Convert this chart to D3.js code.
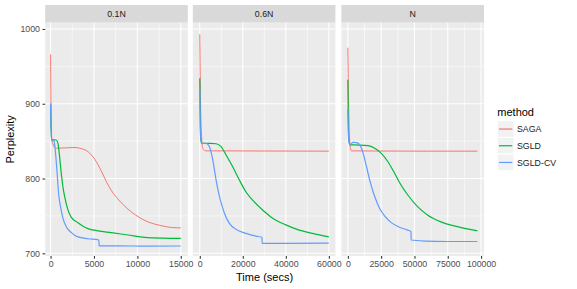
<!DOCTYPE html>
<html>
<head>
<meta charset="utf-8">
<script src="https://cdn.jsdelivr.net/npm/d3@7"></script>
<style>
  body { margin: 0; background: #fff; }
  svg { font-family: "Liberation Sans", Arial, sans-serif; }
</style>
</head>
<body>
<svg id="chart" width="577" height="289"></svg>
<script>
// facets and methods
const facets = ['0.1N', '0.6N', 'N'];
const methods = ['SAGA', 'SGLD', 'SGLD-CV'];
const colors = ['#F8766D', '#00BA38', '#619CFF'];

// x domains (free scales) and tick labels per facet
const xDomains = [[-620, 15810], [-3250, 63050], [-4850, 102200]];
const xTicks = [[0, 5000, 10000, 15000], [0, 20000, 40000, 60000], [0, 25000, 50000, 75000, 100000]];
const xMinor = [[2500, 7500, 12500], [10000, 30000, 50000], [12500, 37500, 62500, 87500]];
const yTicks = [700, 800, 900, 1000];
const yMinor = [750, 850, 950];

// series [time, perplexity]
const saga01 = [[0, 966], [80, 870], [200, 848], [650, 840.5], [1800, 841], [2700, 841.5], [3540, 840], [4300, 836],
  [5080, 826], [5850, 810], [6420, 796], [7000, 784], [7960, 770], [8920, 759], [10075, 749], [11230, 742],
  [12770, 737], [13930, 734.5], [15000, 734]];
const sgld01 = [[0, 900], [100, 852], [650, 851.5], [850, 847], [1040, 829], [1230, 807], [1420, 789], [1615, 776],
  [2000, 758], [2390, 748], [3150, 741], [4300, 733], [5460, 730], [7000, 727.6], [8920, 724.5], [10850, 721.4],
  [13000, 720.3], [15000, 720]];
const sgldcv01 = [[0, 900], [100, 851], [400, 850], [540, 838], [730, 811], [925, 780], [1150, 762], [1420, 747],
  [1810, 735.6], [2390, 727.6], [3150, 722], [4300, 719.5], [5560, 717.8], [5600, 710], [8000, 710], [11000, 709.5],
  [15000, 709.8]];

const saga06 = [[0, 993], [500, 880], [1400, 840], [2940, 837], [10000, 837], [30000, 836.8], [60000, 836.6]];
const sgld06 = [[0, 934], [400, 855], [900, 847], [5000, 847], [7580, 846.5], [9900, 842.6], [12220, 831.5],
  [15300, 815.8], [18400, 798], [21500, 782], [24600, 771], [29200, 758], [33900, 747], [40000, 738], [46200, 731],
  [52400, 726.7], [60000, 722]];
const sgldcv06 = [[0, 920], [400, 855], [900, 847], [3000, 847], [4500, 842.6], [6030, 825], [7580, 798], [9130, 776],
  [11450, 753.5], [13770, 740], [16860, 732], [21500, 726.7], [26100, 723], [28900, 721.4], [29000, 713.4],
  [40000, 713.4], [60000, 713.6]];

const sagaN = [[0, 975], [800, 880], [1800, 842], [2760, 837], [20000, 836.8], [60000, 836.6], [97300, 836.6]];
const sgldN = [[0, 932], [600, 855], [1500, 845], [8000, 844.8], [15200, 844], [20150, 840.4], [25100, 833.7],
  [30100, 822.5], [35100, 807], [40000, 791], [45000, 778], [52500, 762], [60000, 751], [69900, 742],
  [82300, 735.6], [97300, 730]];
const sgldcvN = [[0, 893], [600, 852], [1500, 845.5], [4000, 848.4], [6500, 848], [9000, 845], [11500, 833.7],
  [14000, 815.8], [16400, 798], [20150, 776], [23900, 760], [27600, 750], [32600, 741], [38800, 734.8],
  [45000, 731], [47400, 729], [47500, 717.8], [57400, 716.4], [75000, 715.8], [97300, 715.8]];

const seriesByFacet = [[saga01, sgld01, sgldcv01], [saga06, sgld06, sgldcv06], [sagaN, sgldN, sgldcvN]];

const svg = d3.select('#chart');

// layout
const panelLefts = [45.2, 192.8, 341.4];
const panelWidth = 142.6;
const stripTop = 5, stripH = 17.7;
const panelTop = stripTop + stripH, panelBottom = 256;

const y = d3.scaleLinear().domain([696.4, 1008.4]).range([panelBottom, panelTop]);

facets.forEach((f, i) => {
  const x0 = panelLefts[i];
  const x = d3.scaleLinear().domain(xDomains[i]).range([x0, x0 + panelWidth]);

  // strip
  svg.append('rect')
    .attr('x', x0).attr('y', stripTop)
    .attr('width', panelWidth).attr('height', stripH)
    .attr('fill', '#D9D9D9');
  svg.append('text')
    .attr('x', x0 + panelWidth / 2).attr('y', stripTop + stripH / 2 + 3.2)
    .attr('text-anchor', 'middle')
    .attr('font-size', 8.8).attr('fill', '#1A1A1A')
    .text(f);

  // panel background
  svg.append('rect')
    .attr('x', x0).attr('y', panelTop)
    .attr('width', panelWidth).attr('height', panelBottom - panelTop)
    .attr('fill', '#EBEBEB');

  const g = svg.append('g');
  // minor grid
  g.selectAll('.ymin').data(yMinor).enter().append('line')
    .attr('x1', x0).attr('x2', x0 + panelWidth)
    .attr('y1', d => y(d)).attr('y2', d => y(d))
    .attr('stroke', '#fff').attr('stroke-width', 0.55);
  g.selectAll('.xmin').data(xMinor[i]).enter().append('line')
    .attr('x1', d => x(d)).attr('x2', d => x(d))
    .attr('y1', panelTop).attr('y2', panelBottom)
    .attr('stroke', '#fff').attr('stroke-width', 0.55);
  // major grid
  g.selectAll('.ymaj').data(yTicks).enter().append('line')
    .attr('x1', x0).attr('x2', x0 + panelWidth)
    .attr('y1', d => y(d)).attr('y2', d => y(d))
    .attr('stroke', '#fff').attr('stroke-width', 1.07);
  g.selectAll('.xmaj').data(xTicks[i]).enter().append('line')
    .attr('x1', d => x(d)).attr('x2', d => x(d))
    .attr('y1', panelTop).attr('y2', panelBottom)
    .attr('stroke', '#fff').attr('stroke-width', 1.07);

  // lines
  const line = d3.line()
    .x(d => x(d[0]))
    .y(d => y(d[1]))
    .curve(d3.curveMonotoneX);

  seriesByFacet[i].forEach((s, j) => {
    svg.append('path')
      .datum(s)
      .attr('d', line)
      .attr('fill', 'none')
      .attr('stroke', colors[j])
      .attr('stroke-width', j === 0 ? 1.0 : 1.2);
  });

  // x axis
  const xAxis = d3.axisBottom(x).tickValues(xTicks[i]).tickSize(2.7).tickPadding(2.5).tickFormat(d3.format('d'));
  const ax = svg.append('g')
    .attr('transform', `translate(0,${panelBottom})`)
    .call(xAxis);
  ax.select('.domain').remove();
  ax.selectAll('line').attr('stroke', '#333').attr('stroke-width', 1.07);
  ax.selectAll('text').attr('font-size', 8.8).attr('fill', '#4D4D4D').attr('font-family', 'Liberation Sans, Arial, sans-serif');
});

// y axis
const yAxis = d3.axisLeft(y).tickValues(yTicks).tickSize(2.7).tickPadding(2.5).tickFormat(d3.format('d'));
const ay = svg.append('g')
  .attr('transform', `translate(${panelLefts[0]},0)`)
  .call(yAxis);
ay.select('.domain').remove();
ay.selectAll('line').attr('stroke', '#333').attr('stroke-width', 1.07);
ay.selectAll('text').attr('font-size', 8.8).attr('fill', '#4D4D4D').attr('font-family', 'Liberation Sans, Arial, sans-serif');

// axis titles
svg.append('text')
  .attr('x', panelLefts[0] + (panelLefts[2] + panelWidth - panelLefts[0]) / 2)
  .attr('y', 281)
  .attr('text-anchor', 'middle')
  .attr('font-size', 11)
  .text('Time (secs)');

svg.append('text')
  .attr('transform', `translate(14,${(panelTop + panelBottom) / 2}) rotate(-90)`)
  .attr('text-anchor', 'middle')
  .attr('font-size', 11)
  .text('Perplexity');

// legend
const legX = 497.3, legY = 120.7, keySize = 16.7;
svg.append('text')
  .attr('x', legX).attr('y', 116)
  .attr('font-size', 11)
  .text('method');

methods.forEach((m, j) => {
  const ky = legY + j * keySize;
  svg.append('rect')
    .attr('x', legX).attr('y', ky)
    .attr('width', keySize).attr('height', keySize)
    .attr('fill', '#F2F2F2').attr('stroke', '#fff').attr('stroke-width', 1);
  svg.append('line')
    .attr('x1', legX + 1.7).attr('x2', legX + keySize - 1.7)
    .attr('y1', ky + keySize / 2).attr('y2', ky + keySize / 2)
    .attr('stroke', colors[j]).attr('stroke-width', 1.2);
  svg.append('text')
    .attr('x', legX + keySize + 3)
    .attr('y', ky + keySize / 2 + 3.2)
    .attr('font-size', 8.8)
    .attr('fill', '#1A1A1A')
    .text(m);
});
</script>
</body>
</html>
